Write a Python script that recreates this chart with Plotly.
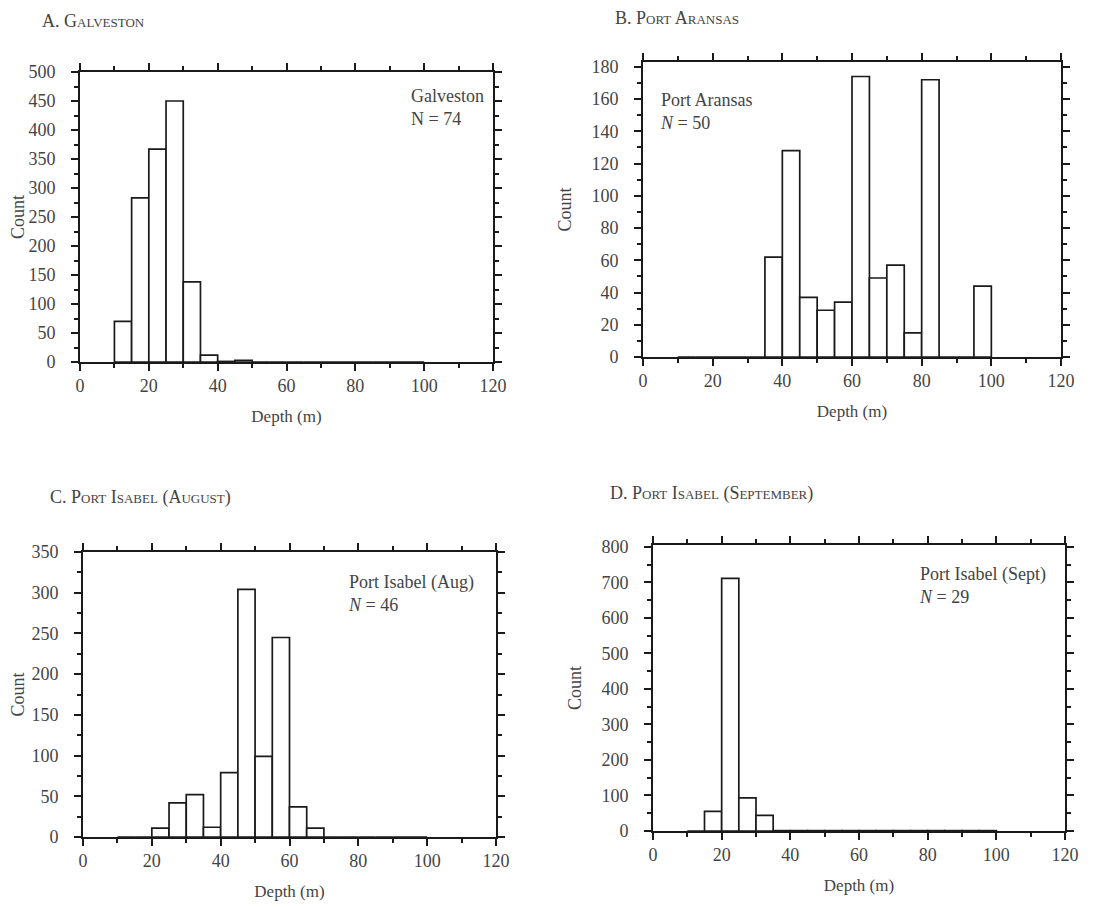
import plotly.graph_objects as go

# ---- data ----
bin_start = [10, 15, 20, 25, 30, 35, 40, 45, 50, 55, 60, 65, 70, 75, 80, 85, 90, 95]

galveston_counts = [70, 283, 367, 450, 138, 12, 1, 3, 0, 0, 0, 0, 0, 0, 0, 0, 0, 0]
aransas_counts = [0, 0, 0, 0, 0, 62, 128, 37, 29, 34, 174, 49, 57, 15, 172, 0, 0, 44]
isabel_aug_counts = [0, 0, 11, 42, 52, 12, 79, 304, 99, 245, 37, 11, 0, 0, 0, 0, 0, 0]
isabel_sep_counts = [0, 55, 711, 93, 44, 1, 1, 1, 1, 1, 1, 1, 1, 1, 1, 1, 1, 1]

panel_titles = ["A. Galveston", "B. Port Aransas", "C. Port Isabel (August)", "D. Port Isabel (September)"]
panel_labels = ["Galveston<br>N = 74", "Port Aransas<br><i>N</i> = 50",
                "Port Isabel (Aug)<br><i>N</i> = 46", "Port Isabel (Sept)<br><i>N</i> = 29"]
x_ticks = [0, 20, 40, 60, 80, 100, 120]
y_ranges = [[0, 500], [0, 183], [0, 350], [0, 805]]
y_dticks = [50, 20, 50, 100]
y_minor = [25, 10, 25, 50]

series = [galveston_counts, aransas_counts, isabel_aug_counts, isabel_sep_counts]

FONT = "Liberation Serif, Times New Roman, serif"
INK = "#1a1a1a"
TXT = "#444444"

# page body has an 8px margin; figure sized to fit the window
OFF = 8
W, H = 1102, 899


def fx(s):
    return (s - OFF) / W


def fy(s):
    return 1 - (s - OFF) / H


# plot boxes in window pixels: (left, right, top, bottom)
boxes = [(80, 493, 72, 362), (643, 1061, 62, 357), (83, 496, 552, 837), (653, 1065, 545, 831)]

fig = go.Figure()
layout = dict(
    width=W, height=H,
    paper_bgcolor="white", plot_bgcolor="white",
    margin=dict(l=0, r=0, t=0, b=0),
    showlegend=False,
    font=dict(family=FONT, color=TXT, size=18),
    annotations=[],
)

# label anchors in window pixels: (x, y_top, anchor)
label_pos = [(486, 84, "right"), (658, 88, "left"), (476, 570, "right"), (1048, 562, "right")]
title_pos = [(40, 21), (613, 18), (48, 497), (608, 493)]

for i in range(4):
    xa = "x" if i == 0 else f"x{i+1}"
    ya = "y" if i == 0 else f"y{i+1}"
    l, r, t, b = boxes[i]
    fig.add_trace(go.Bar(
        x=bin_start, y=series[i], width=5, offset=0,
        marker=dict(color="white", line=dict(color=INK, width=1.7)),
        xaxis=xa, yaxis=ya, hoverinfo="x+y",
    ))
    xk = "xaxis" if i == 0 else f"xaxis{i+1}"
    yk = "yaxis" if i == 0 else f"yaxis{i+1}"
    layout[xk] = dict(
        domain=[fx(l), fx(r)], anchor=ya, range=[0, 120], automargin=False,
        tickvals=x_ticks, ticks="outside", ticklen=7, tickwidth=1.5, tickcolor=INK,
        minor=dict(dtick=10, tick0=0, ticks="outside", ticklen=4, tickcolor=INK),
        showline=True, linecolor=INK, linewidth=1.7, mirror="ticks",
        showgrid=False, zeroline=False, ticklabelstandoff=0,
        title=dict(text="Depth (m)", font=dict(size=17, family=FONT, color=TXT)),
        tickfont=dict(size=18, family=FONT, color=TXT),
    )
    layout[yk] = dict(
        domain=[fy(b), fy(t)], anchor=xa, range=y_ranges[i], automargin=False,
        dtick=y_dticks[i], tick0=0, ticks="outside", ticklen=7, tickwidth=1.5, tickcolor=INK,
        minor=dict(dtick=y_minor[i], tick0=0, ticks="outside", ticklen=4, tickcolor=INK),
        showline=True, linecolor=INK, linewidth=1.7, mirror="ticks",
        showgrid=False, zeroline=False, ticklabelstandoff=12,
        title=dict(text="Count", font=dict(size=18, family=FONT, color=TXT)),
        tickfont=dict(size=18, family=FONT, color=TXT),
    )
    lx, ly, al = label_pos[i]
    layout["annotations"].append(dict(
        text=panel_labels[i], xref="paper", yref="paper",
        x=fx(lx), y=fy(ly), xanchor=al, yanchor="top", align="left", showarrow=False,
        font=dict(size=18, family=FONT, color=TXT),
    ))
    tx, ty = title_pos[i]
    layout["annotations"].append(dict(
        text=panel_titles[i], xref="paper", yref="paper",
        x=fx(tx), y=fy(ty), xanchor="left", yanchor="middle", showarrow=False,
        font=dict(size=18, family=FONT, color=TXT, variant="small-caps"),
    ))

fig.update_layout(**layout)
fig.write_html("out.html")
